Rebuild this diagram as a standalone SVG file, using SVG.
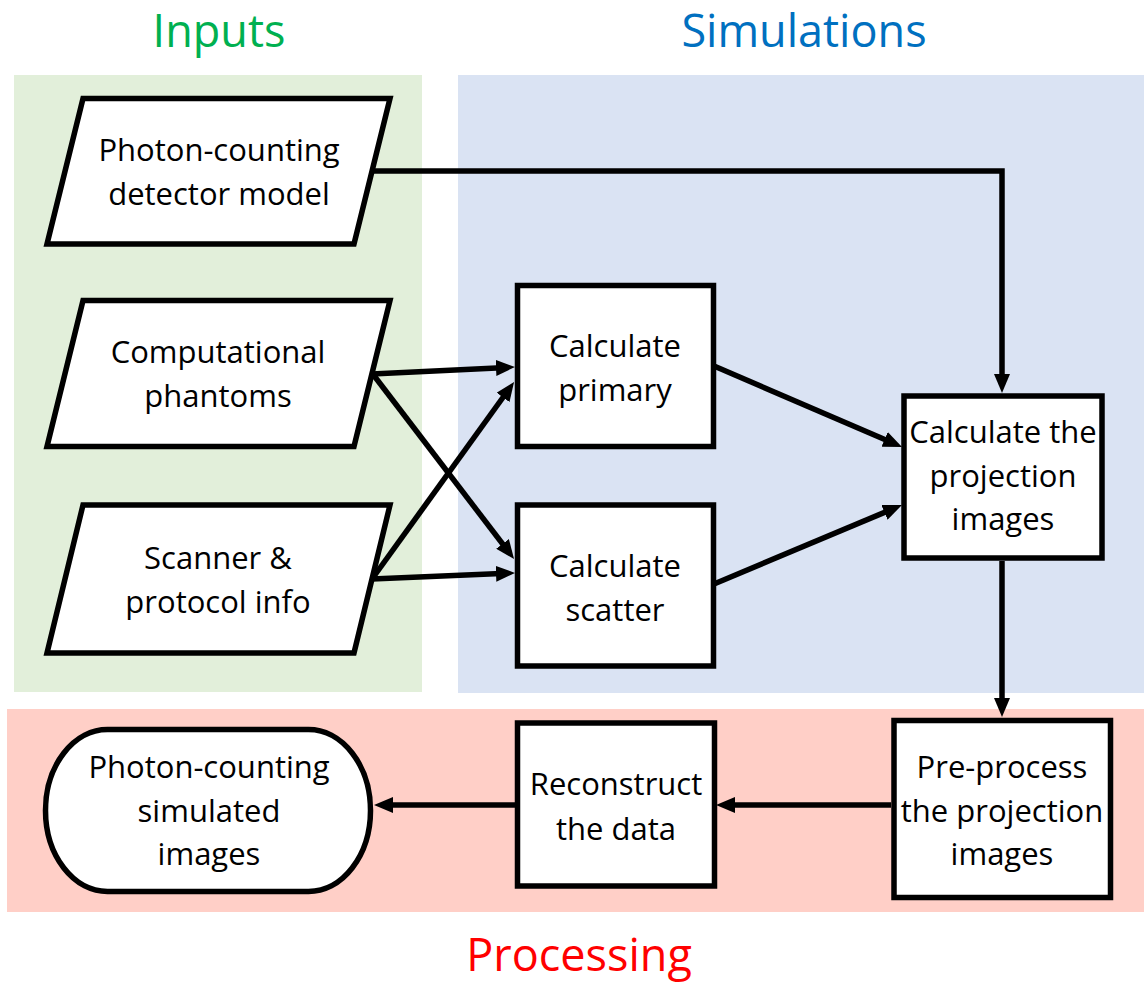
<svg xmlns="http://www.w3.org/2000/svg" width="1144" height="986" viewBox="0 0 1144 986">
  <defs>
    <marker id="arrow" markerUnits="userSpaceOnUse" markerWidth="19" markerHeight="16" refX="11" refY="8" orient="auto">
      <path d="M0,0 L19,8 L0,16 Z" fill="#000"/>
    </marker>
    <style>
      .title { font-family: "Open Sans", "Noto Sans", sans-serif; font-size: 45px; text-anchor: middle; }
      .label { font-family: "Open Sans", "Noto Sans", sans-serif; font-size: 31px; text-anchor: middle; fill: #000; }
      .shape { fill: #fff; stroke: #000; stroke-width: 5.5; stroke-linejoin: miter; }
      .conn { fill: none; stroke: #000; stroke-width: 5.5; marker-end: url(#arrow); }
    </style>
  </defs>
  <rect width="1144" height="986" fill="#fff"/>

  <g id="panels">
    <rect x="14" y="75" width="408" height="617" fill="#E2EFDA"/>
    <rect x="458" y="75" width="686" height="618" fill="#DAE3F3"/>
    <rect x="7" y="709" width="1137" height="203" fill="#FFCFC7"/>
  </g>

  <g id="titles">
    <text class="title" x="219" y="47" fill="#00B050">Inputs</text>
    <text class="title" x="804" y="47" fill="#0070C0">Simulations</text>
    <text class="title" x="579" y="971" fill="#FF0000">Processing</text>
  </g>

  <g id="connectors">
    <path class="conn" d="M357,171 H1002 V385"/>
    <path class="conn" d="M372,374 L507,367.4"/>
    <path class="conn" d="M372,373 L509.2,552.6"/>
    <path class="conn" d="M372,579 L509.4,388.5"/>
    <path class="conn" d="M372,579 L507,573.3"/>
    <path class="conn" d="M714,366 L894.7,443.8"/>
    <path class="conn" d="M714,584 L894.6,508.1"/>
    <path class="conn" d="M1002,561 V709"/>
    <path class="conn" d="M891,805 H724"/>
    <path class="conn" d="M516,805 H382"/>
  </g>

  <g id="detector-model">
    <polygon class="shape" points="83,98.5 390,98.5 354,244 47,244"/>
    <text class="label" x="219" y="161">Photon-counting</text>
    <text class="label" x="219" y="205">detector model</text>
  </g>

  <g id="phantoms">
    <polygon class="shape" points="83,300.5 390,300.5 354,446.5 47,446.5"/>
    <text class="label" x="218" y="363">Computational</text>
    <text class="label" x="218" y="407">phantoms</text>
  </g>

  <g id="scanner-info">
    <polygon class="shape" points="83,505 390,505 354,653 47,653"/>
    <text class="label" x="218" y="569">Scanner &amp;</text>
    <text class="label" x="218" y="613">protocol info</text>
  </g>

  <g id="calc-primary">
    <rect class="shape" x="517.5" y="285.5" width="196" height="161"/>
    <text class="label" x="615" y="357">Calculate</text>
    <text class="label" x="615" y="401">primary</text>
  </g>

  <g id="calc-scatter">
    <rect class="shape" x="517.5" y="505" width="196" height="161"/>
    <text class="label" x="615" y="577">Calculate</text>
    <text class="label" x="615" y="621">scatter</text>
  </g>

  <g id="calc-projection">
    <rect class="shape" x="904" y="396" width="198" height="162"/>
    <text class="label" x="1003" y="443">Calculate the</text>
    <text class="label" x="1003" y="487">projection</text>
    <text class="label" x="1003" y="530">images</text>
  </g>

  <g id="preprocess">
    <rect class="shape" x="894" y="720.5" width="216.5" height="177"/>
    <text class="label" x="1002" y="778">Pre-process</text>
    <text class="label" x="1002" y="822">the projection</text>
    <text class="label" x="1002" y="865">images</text>
  </g>

  <g id="reconstruct">
    <rect class="shape" x="517.5" y="723" width="197" height="163"/>
    <text class="label" x="616" y="795">Reconstruct</text>
    <text class="label" x="616" y="840">the data</text>
  </g>

  <g id="simulated-images">
    <rect class="shape" x="45.5" y="729.5" width="325" height="162" rx="62" ry="81"/>
    <text class="label" x="209" y="778">Photon-counting</text>
    <text class="label" x="209" y="822">simulated</text>
    <text class="label" x="209" y="865">images</text>
  </g>
</svg>
